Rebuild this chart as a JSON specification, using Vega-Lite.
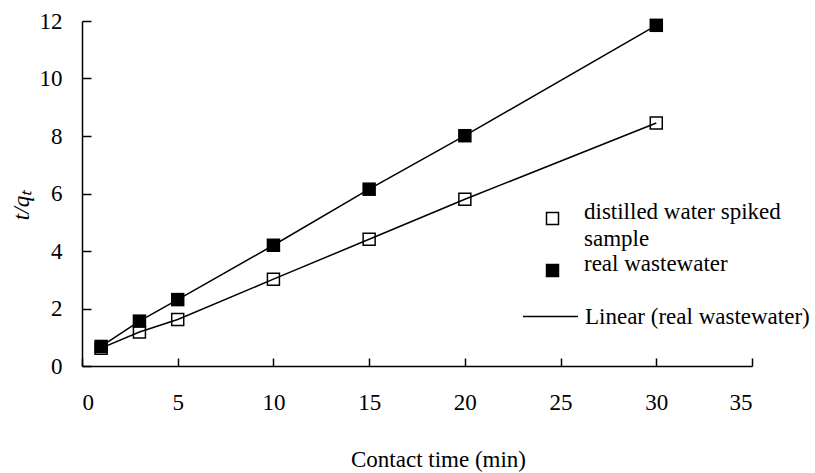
{
  "$schema": "https://vega.github.io/schema/vega-lite/v6.json",
  "width": 670,
  "height": 345,
  "autosize": {"type": "none"},
  "padding": {"left": 82, "top": 21, "right": 63, "bottom": 107},
  "background": "white",
  "config": {
    "font": "Liberation Serif",
    "view": {"stroke": null},
    "style": {"guide-label": {"lineHeight": 27}}
  },
  "data": {
    "values": [
      {"t": 1, "v": 0.62, "s": "distilled water spiked sample"},
      {"t": 3, "v": 1.18, "s": "distilled water spiked sample"},
      {"t": 5, "v": 1.62, "s": "distilled water spiked sample"},
      {"t": 10, "v": 3.02, "s": "distilled water spiked sample"},
      {"t": 15, "v": 4.41, "s": "distilled water spiked sample"},
      {"t": 20, "v": 5.8, "s": "distilled water spiked sample"},
      {"t": 30, "v": 8.45, "s": "distilled water spiked sample"},
      {"t": 1, "v": 0.68, "s": "real wastewater"},
      {"t": 3, "v": 1.56, "s": "real wastewater"},
      {"t": 5, "v": 2.31, "s": "real wastewater"},
      {"t": 10, "v": 4.2, "s": "real wastewater"},
      {"t": 15, "v": 6.15, "s": "real wastewater"},
      {"t": 20, "v": 8.01, "s": "real wastewater"},
      {"t": 30, "v": 11.85, "s": "real wastewater"}
    ]
  },
  "layer": [
    {
      "mark": {"type": "line", "strokeWidth": 1.5},
      "encoding": {
        "x": {
          "field": "t",
          "type": "quantitative",
          "scale": {"domain": [0, 35], "nice": false},
          "axis": {
            "grid": false,
            "domainColor": "black",
            "domainWidth": 1.5,
            "tickColor": "black",
            "tickWidth": 1.5,
            "labelColor": "black",
            "labelFont": "Liberation Serif",
            "labelFontSize": 23,
            "titleColor": "black",
            "titleFont": "Liberation Serif",
            "titleFontSize": 23,
            "titleFontWeight": "normal",
            "values": [0, 5, 10, 15, 20, 25, 30, 35],
            "tickSize": -8,
            "labelPadding": 33,
            "title": "Contact time (min)",
            "titleX": 356,
            "titleY": 100,
            "titleBaseline": "alphabetic"
          }
        },
        "y": {
          "field": "v",
          "type": "quantitative",
          "scale": {"domain": [0, 12], "nice": false},
          "axis": {
            "grid": false,
            "domainColor": "black",
            "domainWidth": 1.5,
            "tickColor": "black",
            "tickWidth": 1.5,
            "labelColor": "black",
            "labelFont": "Liberation Serif",
            "labelFontSize": 23,
            "titleColor": "black",
            "titleFont": "Liberation Serif",
            "titleFontSize": 23,
            "titleFontWeight": "normal",
            "values": [0, 2, 4, 6, 8, 10, 12],
            "tickSize": -9,
            "labelPadding": 29,
            "title": "t/qₜ",
            "titleFontStyle": "italic",
            "titleAngle": 270,
            "titleX": -61,
            "titleY": 184,
            "titleBaseline": "middle",
            "titleAlign": "center"
          }
        },
        "detail": {"field": "s"},
        "stroke": {
          "datum": "Linear (real wastewater)",
          "type": "nominal",
          "scale": {"range": ["black"]},
          "legend": {
            "orient": "none",
            "legendX": 440,
            "legendY": 267,
            "title": null,
            "labelFont": "Liberation Serif",
            "labelFontSize": 23,
            "labelColor": "black",
            "labelOffset": 6,
            "labelLimit": 0,
            "symbolType": "stroke",
            "symbolSize": 3025,
            "symbolStrokeWidth": 1.5
          }
        }
      }
    },
    {
      "mark": {"type": "point", "filled": true, "color": "black", "strokeWidth": 0, "opacity": 1, "size": 182},
      "encoding": {
        "x": {"field": "t", "type": "quantitative"},
        "y": {"field": "v", "type": "quantitative"},
        "shape": {
          "field": "s",
          "type": "nominal",
          "scale": {
            "domain": ["distilled water spiked sample", "real wastewater"],
            "range": ["M-1,-1H1V1H-1Z M-0.78,-0.78V0.78H0.78V-0.78Z", "square"]
          },
          "legend": {
            "orient": "none",
            "legendX": 459,
            "legendY": 186,
            "title": null,
            "labelFont": "Liberation Serif",
            "labelFontSize": 23,
            "labelColor": "black",
            "labelOffset": 20,
            "labelLimit": 0,
            "labelBaseline": "alphabetic",
            "rowPadding": 1,
            "symbolSize": 182,
            "symbolFillColor": "black",
            "symbolStrokeWidth": 0,
            "labelExpr": "datum.label == 'distilled water spiked sample' ? ['distilled water spiked', 'sample'] : datum.label"
          }
        }
      }
    }
  ]
}
